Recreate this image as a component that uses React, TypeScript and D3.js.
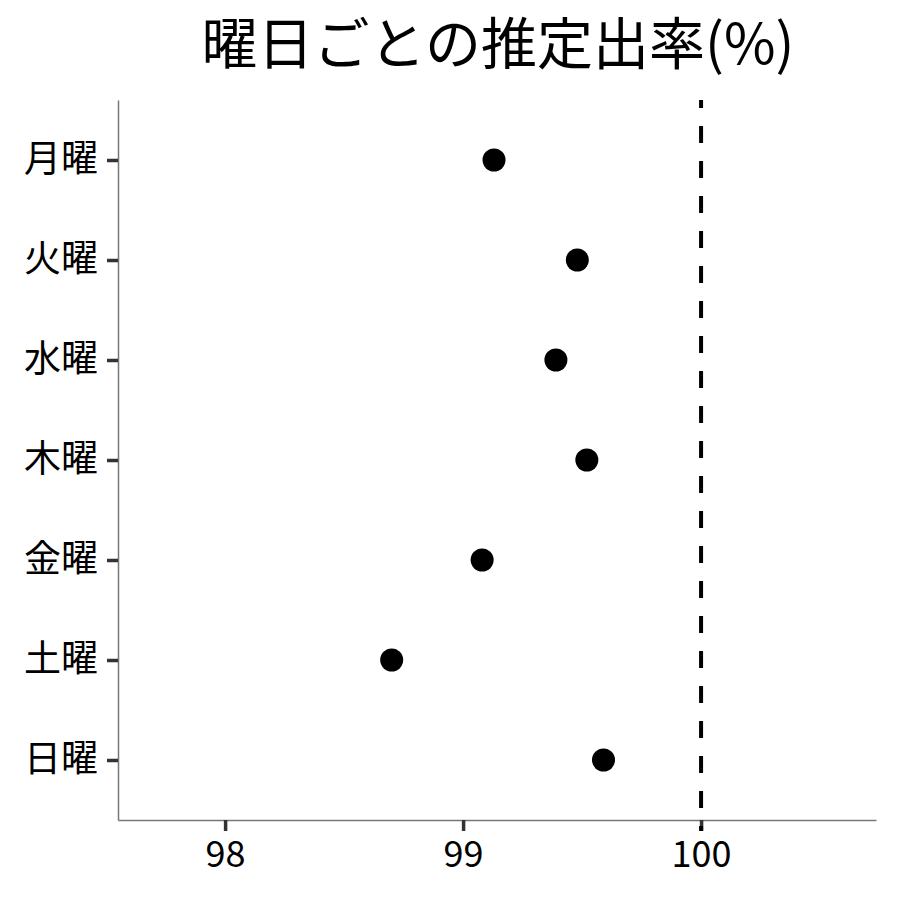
import React, { useEffect, useRef } from 'react';
import * as d3 from 'd3';

const days = ['月曜', '火曜', '水曜', '木曜', '金曜', '土曜', '日曜'];
const rates = [99.13, 99.48, 99.39, 99.52, 99.08, 98.7, 99.59];
const xTicks = [98, 99, 100];
const refValue = 100;
const title = '曜日ごとの推定出率(%)';

const FONT = '"Noto Sans CJK JP", "Noto Sans", sans-serif';

const App: React.FC = () => {
  const svgRef = useRef<SVGSVGElement>(null);

  useEffect(() => {
    if (!svgRef.current) return;
    const width = 900;
    const height = 900;
    const margin = { top: 100, right: 24, bottom: 80, left: 118 };
    const chartWidth = width - margin.left - margin.right;
    const chartHeight = height - margin.top - margin.bottom;

    const svg = d3.select(svgRef.current);
    svg.selectAll('*').remove();

    svg.append('rect').attr('width', width).attr('height', height).attr('fill', '#ffffff');

    // Title
    svg.append('text')
      .attr('x', 498)
      .attr('y', 64)
      .attr('text-anchor', 'middle')
      .attr('font-family', FONT)
      .attr('font-size', '56px')
      .attr('fill', '#000')
      .text(title);

    const g = svg.append('g')
      .attr('transform', `translate(${margin.left},${margin.top})`);

    const xScale = d3.scaleLinear()
      .domain([97.55, 100.735])
      .range([0, chartWidth]);

    const yScale = d3.scalePoint<string>()
      .domain(days)
      .range([0, chartHeight])
      .padding(0.6);

    // Axes
    const xAxisG = g.append('g')
      .attr('transform', `translate(0,${chartHeight})`)
      .call(d3.axisBottom(xScale).tickValues(xTicks).tickSize(11).tickSizeOuter(0).tickPadding(10).tickFormat(d3.format('d')));

    xAxisG.select('.domain').attr('stroke', '#777').attr('stroke-width', 1.5);
    xAxisG.selectAll('.tick line').attr('stroke', '#333').attr('stroke-width', 3.5);
    xAxisG.selectAll('text')
      .attr('fill', '#000')
      .attr('font-size', '36px')
      .attr('font-family', FONT);

    const yAxisG = g.append('g')
      .call(d3.axisLeft(yScale).tickSize(11).tickSizeOuter(0).tickPadding(9));

    yAxisG.select('.domain').attr('stroke', '#777').attr('stroke-width', 1.5);
    yAxisG.selectAll('.tick line').attr('stroke', '#333').attr('stroke-width', 3.5);
    yAxisG.selectAll('text')
      .attr('fill', '#000')
      .attr('font-size', '37px')
      .attr('font-family', FONT);

    // Reference line at 100
    g.append('line')
      .attr('x1', xScale(refValue))
      .attr('x2', xScale(refValue))
      .attr('y1', 0)
      .attr('y2', chartHeight + 11)
      .attr('stroke', '#000')
      .attr('stroke-width', 4)
      .attr('stroke-dasharray', '17,18')
      .attr('stroke-dashoffset', 9);

    // Points
    g.selectAll('.dot')
      .data(days)
      .enter()
      .append('circle')
      .attr('class', 'dot')
      .attr('cx', (d, i) => xScale(rates[i]))
      .attr('cy', d => yScale(d) || 0)
      .attr('r', 11.5)
      .attr('fill', '#000');
  }, []);

  return (
    <div style={{ position: 'absolute', top: 0, left: 0, width: 900, height: 900 }}>
      <svg ref={svgRef} width={900} height={900} style={{ display: 'block' }} />
    </div>
  );
};

export default App;
